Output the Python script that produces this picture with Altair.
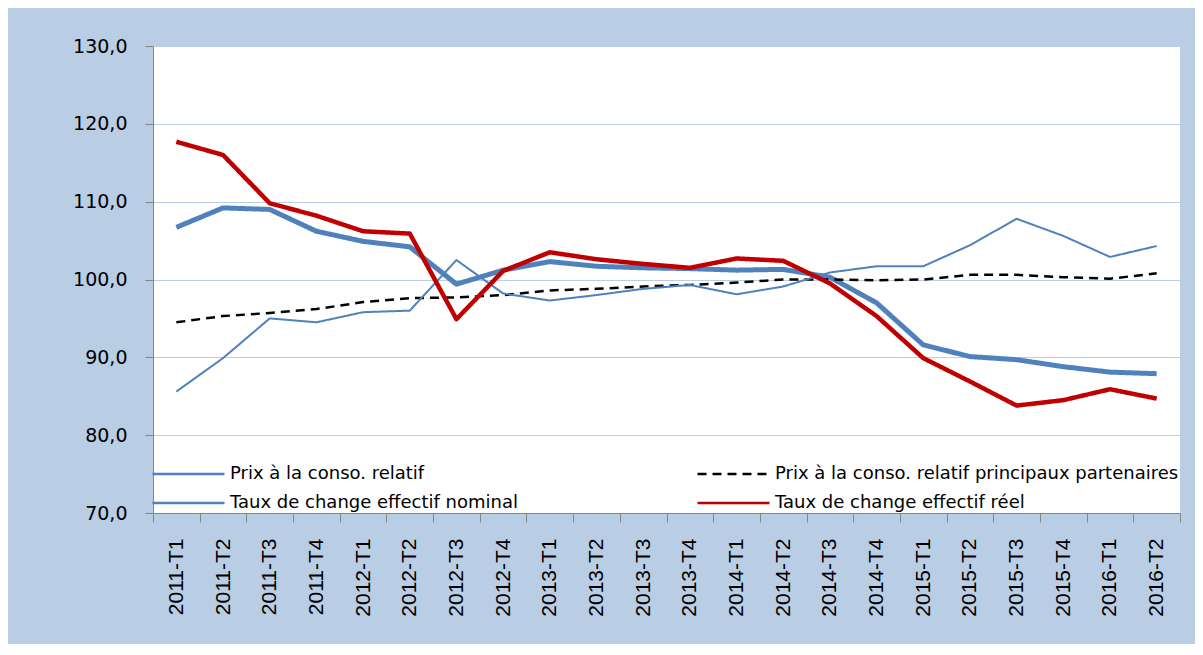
import altair as alt
import pandas as pd

categories = [
    "2011-T1", "2011-T2", "2011-T3", "2011-T4",
    "2012-T1", "2012-T2", "2012-T3", "2012-T4",
    "2013-T1", "2013-T2", "2013-T3", "2013-T4",
    "2014-T1", "2014-T2", "2014-T3", "2014-T4",
    "2015-T1", "2015-T2", "2015-T3", "2015-T4",
    "2016-T1", "2016-T2",
]

series_names = [
    "Prix à la conso. relatif",
    "Prix à la conso. relatif principaux partenaires",
    "Taux de change effectif nominal",
    "Taux de change effectif réel",
]

prix_relatif = [106.7, 109.2, 109.0, 106.2, 104.9, 104.2, 99.4, 101.2, 102.3, 101.7, 101.5,
                101.4, 101.2, 101.3, 100.3, 97.0, 91.6, 90.1, 89.7, 88.8, 88.1, 87.9]
prix_partenaires = [94.5, 95.3, 95.7, 96.2, 97.1, 97.6, 97.7, 98.0, 98.6, 98.8, 99.1,
                    99.3, 99.6, 100.0, 100.0, 99.9, 100.0, 100.6, 100.6, 100.3, 100.1, 100.8]
tcen = [85.6, 89.9, 95.0, 94.5, 95.8, 96.0, 102.5, 98.2, 97.3, 98.0, 98.8,
        99.3, 98.1, 99.1, 100.9, 101.7, 101.7, 104.4, 107.8, 105.6, 102.9, 104.3]
tcer = [117.7, 116.0, 109.8, 108.2, 106.2, 105.9, 94.9, 101.1, 103.5, 102.6, 102.0,
        101.5, 102.7, 102.4, 99.5, 95.3, 89.9, 86.9, 83.8, 84.5, 85.9, 84.7]

y_ticks = [70, 80, 90, 100, 110, 120, 130]

rows = []
for name, vals in zip(series_names, [prix_relatif, prix_partenaires, tcen, tcer]):
    for c, v in zip(categories, vals):
        rows.append({"periode": c, "serie": name, "valeur": v})
df = pd.DataFrame(rows)

colors = ["#4F81BD", "#000000", "#4F81BD", "#C00000"]
widths = [5, 2.5, 2, 4.5]
dashes = [[1, 0], [9, 6], [1, 0], [1, 0]]

legend_cfg = dict(title=None, orient="none", legendX=-2, legendY=418,
                  columns=2, direction="horizontal", symbolStrokeWidth=2.5)

x_enc = alt.X("periode:N", sort=categories, title=None,
              scale=alt.Scale(paddingInner=0, paddingOuter=0),
              axis=alt.Axis(labelAngle=-90, tickBand="extent"))
y_enc = alt.Y("valeur:Q", title=None,
              scale=alt.Scale(domain=[70, 130], nice=False, zero=False),
              axis=alt.Axis(values=y_ticks,
                            labelExpr="replace(format(datum.value, '.1f'), '.', ',')"))
color_enc = alt.Color("serie:N", sort=series_names,
                      scale=alt.Scale(domain=series_names, range=colors),
                      legend=alt.Legend(**legend_cfg))
dash_enc = alt.StrokeDash("serie:N", sort=series_names,
                          scale=alt.Scale(domain=series_names, range=dashes),
                          legend=alt.Legend(**legend_cfg))

base = alt.Chart(df)

# legend carrier (no rows drawn): gives thin legend symbols
layers = [
    base.transform_filter("false")
    .mark_line(strokeWidth=2.5)
    .encode(x=x_enc, y=y_enc, color=color_enc, strokeDash=dash_enc)
]
for name, w in zip(series_names, widths):
    layers.append(
        base.transform_filter(alt.datum.serie == name)
        .mark_line(strokeWidth=w, strokeJoin="round", strokeCap="butt")
        .encode(x=x_enc, y=y_enc, color=color_enc, strokeDash=dash_enc)
    )

chart = (
    alt.layer(*layers)
    .properties(
        width=1027, height=467,
        autosize=alt.AutoSizeParams(type="none"),
        padding={"left": 145, "top": 38, "right": 15, "bottom": 131},
        background="#B9CDE5",
    )
    .configure_view(fill="white", stroke=None)
    .configure_axis(
        domainColor="#868686", tickColor="#868686", labelColor="#000000",
        gridColor="#B9CDE5", gridWidth=1,
    )
    .configure_axisX(
        grid=False, tickSize=9, labelFont="Liberation Sans", labelFontSize=21,
        labelPadding=16,
    )
    .configure_axisY(
        grid=True, tickSize=8, labelFont="DejaVu Sans", labelFontSize=19,
        labelPadding=18,
    )
    .configure_legend(
        symbolType="stroke", symbolSize=5184, symbolStrokeWidth=2.5,
        clipHeight=20, labelOffset=4, rowPadding=9, columnPadding=178,
        labelFont="DejaVu Sans", labelFontSize=18, labelColor="#000000",
        labelLimit=600, padding=0,
    )
)

chart.save("out.html", embed_options={"renderer": "svg", "actions": False})
